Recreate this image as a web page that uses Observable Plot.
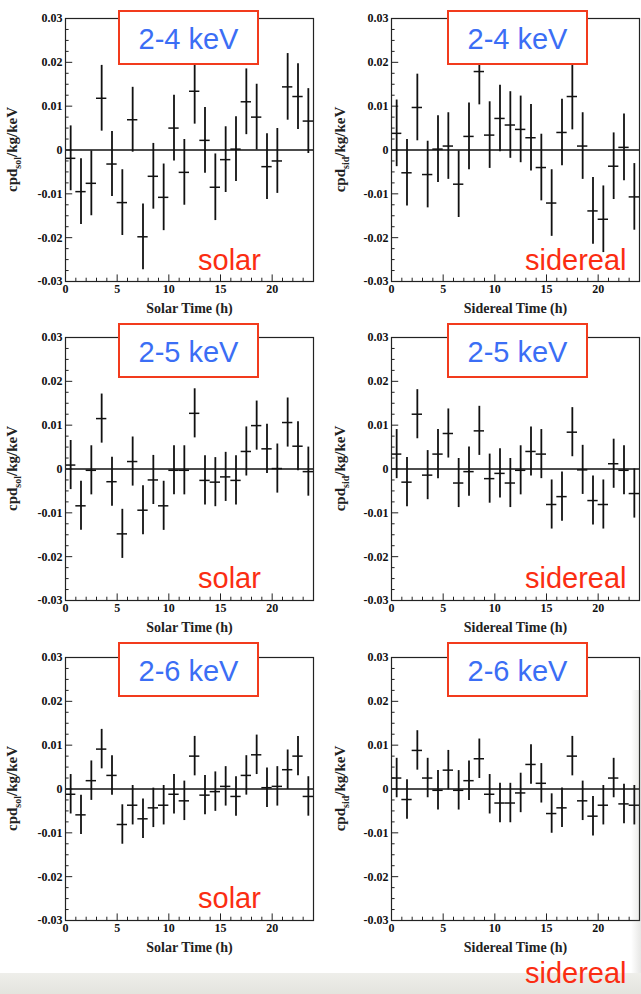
<!DOCTYPE html>
<html>
<head>
<meta charset="utf-8">
<script src="https://cdn.jsdelivr.net/npm/d3@7"></script>
<script src="https://cdn.jsdelivr.net/npm/@observablehq/plot@0.6"></script>
<style>
html, body { margin: 0; padding: 0; background: #fff; overflow: hidden; }
#page { position: relative; width: 641px; height: 994px; overflow: hidden; background: #fff; }
.panel { position: absolute; }
.panel svg { overflow: visible; }
.kev { position: absolute; box-sizing: border-box; height: 55px; border: 2px solid #f23b1d; background: #fff;
       color: #3b6ef5; font-family: "Liberation Sans", Arial, sans-serif; font-size: 29px; line-height: 29px;
       padding-top: 13px; text-align: center; }
.tag { position: absolute; color: #fb2d12; font-family: "Liberation Sans", Arial, sans-serif; font-size: 29px; line-height: 28px; white-space: nowrap; }
.band { position: absolute; left: 0; top: 973px; width: 641px; height: 21px; background: linear-gradient(#eeeeea, #e4e4de); }
.shade { position: absolute; left: 631px; top: 690px; width: 10px; height: 283px;
         background: linear-gradient(to right, rgba(120,120,110,0), rgba(120,120,110,0.18)); }
</style>
</head>
<body>
<div id="page"></div>
<script>
// ---- data ----
const hours = [0.5,1.5,2.5,3.5,4.5,5.5,6.5,7.5,8.5,9.5,10.5,11.5,12.5,13.5,14.5,15.5,16.5,17.5,18.5,19.5,20.5,21.5,22.5,23.5];

const solar24 = [-0.0019,-0.0095,-0.0076,0.0118,-0.0032,-0.0120,0.0069,-0.0198,-0.0060,-0.0108,0.0050,-0.0051,
                 0.0134,0.0022,-0.0085,-0.0022,0.0002,0.0110,0.0075,-0.0038,-0.0025,0.0144,0.0122,0.0066];
const solar24Err = [0.0074,0.0075,0.0074,0.0075,0.0074,0.0075,0.0074,0.0075,0.0075,0.0076,0.0075,0.0075,
                    0.0075,0.0075,0.0076,0.0075,0.0074,0.0075,0.0075,0.0075,0.0074,0.0076,0.0075,0.0074];

const sidereal24 = [0.0038,-0.0052,0.0097,-0.0056,0.0002,0.0009,-0.0078,0.0031,0.0179,0.0034,0.0072,0.0057,
                    0.0047,0.0028,-0.0040,-0.0121,0.0040,0.0122,0.0009,-0.0139,-0.0158,-0.0037,0.0006,-0.0107];
const sidereal24Err = [0.0076,0.0076,0.0076,0.0076,0.0076,0.0076,0.0076,0.0076,0.0076,0.0076,0.0076,0.0076,
                       0.0076,0.0076,0.0076,0.0076,0.0076,0.0076,0.0076,0.0076,0.0076,0.0076,0.0076,0.0076];

const solar25 = [0.0009,-0.0084,-0.0003,0.0115,-0.0029,-0.0148,0.0017,-0.0094,-0.0025,-0.0084,-0.0003,-0.0003,
                 0.0127,-0.0026,-0.0030,-0.0018,-0.0026,0.0040,0.0099,0.0046,0.0001,0.0106,0.0052,-0.0006];
const solar25Err = [0.0056,0.0056,0.0056,0.0056,0.0056,0.0056,0.0056,0.0056,0.0056,0.0056,0.0056,0.0056,
                    0.0056,0.0056,0.0056,0.0056,0.0056,0.0056,0.0056,0.0056,0.0056,0.0056,0.0056,0.0056];

const sidereal25 = [0.0034,-0.0030,0.0125,-0.0014,0.0034,0.0081,-0.0032,-0.0006,0.0087,-0.0022,-0.0010,-0.0032,
                    -0.0003,0.0040,0.0034,-0.0081,-0.0063,0.0084,-0.0002,-0.0072,-0.0081,0.0012,-0.0003,-0.0056];
const sidereal25Err = [0.0056,0.0056,0.0056,0.0056,0.0056,0.0056,0.0056,0.0056,0.0056,0.0056,0.0056,0.0056,
                       0.0056,0.0056,0.0056,0.0056,0.0056,0.0056,0.0056,0.0056,0.0056,0.0056,0.0056,0.0056];

const solar26 = [-0.0012,-0.0059,0.0019,0.0091,0.0031,-0.0081,-0.0037,-0.0068,-0.0043,-0.0037,-0.0012,-0.0027,
                 0.0075,-0.0014,-0.0006,0.0006,-0.0017,0.0031,0.0078,0.0003,0.0006,0.0044,0.0075,-0.0017];
const solar26Err = [0.0045,0.0045,0.0045,0.0045,0.0045,0.0045,0.0045,0.0045,0.0045,0.0045,0.0045,0.0045,
                    0.0045,0.0045,0.0045,0.0045,0.0045,0.0045,0.0045,0.0045,0.0045,0.0045,0.0045,0.0045];

const sidereal26 = [0.0025,-0.0024,0.0088,0.0025,-0.0003,0.0043,-0.0003,0.0019,0.0069,-0.0012,-0.0032,-0.0032,
                    -0.0009,0.0056,0.0013,-0.0056,-0.0043,0.0075,-0.0027,-0.0062,-0.0037,0.0025,-0.0034,-0.0037];
const sidereal26Err = [0.0045,0.0045,0.0045,0.0045,0.0045,0.0045,0.0045,0.0045,0.0045,0.0045,0.0045,0.0045,
                       0.0045,0.0045,0.0045,0.0045,0.0045,0.0045,0.0045,0.0045,0.0045,0.0045,0.0045,0.0045];

const energyBands = ["2-4 keV", "2-5 keV", "2-6 keV"];
const frameNames = ["solar", "sidereal"];
const xTitles = ["Solar Time (h)", "Sidereal Time (h)"];
const ySubs = ["sol", "sid"];
const yTicks = [-0.03, -0.02, -0.01, 0, 0.01, 0.02, 0.03];
const yMinorTicks = [-0.0275,-0.025,-0.0225,-0.0175,-0.015,-0.0125,-0.0075,-0.005,-0.0025,
                     0.0025,0.005,0.0075,0.0125,0.015,0.0175,0.0225,0.025,0.0275];
const xTicks = [0, 5, 10, 15, 20];
const xMinorTicks = [1,2,3,4,6,7,8,9,11,12,13,14,16,17,18,19,21,22,23];

const seriesGrid = [
  [[solar24, solar24Err], [sidereal24, sidereal24Err]],
  [[solar25, solar25Err], [sidereal25, sidereal25Err]],
  [[solar26, solar26Err], [sidereal26, sidereal26Err]]
];

// ---- layout ----
const page = document.getElementById("page");
const rowTop = [0, 319, 639];
const colLeft = [0, 320];
const serif = "'Liberation Serif', 'Times New Roman', serif";

function fmtY(d) { return d === 0 ? "0" : d.toFixed(2); }

function makePanel(vals, errs, col) {
  const data = hours.map((h, i) => ({h, v: vals[i], e: errs[i]}));
  const left = col === 0;
  const mL = left ? 65 : 71;
  const W = 320;
  const plot = Plot.plot({
    width: W, height: 320,
    marginLeft: mL, marginRight: W - mL - 248, marginTop: 18, marginBottom: 39,
    x: {domain: [0, 24], axis: null},
    y: {domain: [-0.03, 0.03], axis: null},
    style: {background: "transparent", overflow: "visible"},
    marks: [
      Plot.ruleY([0], {stroke: "#111", strokeWidth: 1.3}),
      Plot.ruleY(yTicks, {y: d => d, x1: 0, x2: 0.7, stroke: "#222", strokeWidth: 1}),
      Plot.ruleY(yMinorTicks, {y: d => d, x1: 0, x2: 0.35, stroke: "#222", strokeWidth: 1}),
      Plot.ruleX(xTicks, {x: d => d, y1: -0.03, y2: -0.0285, stroke: "#222", strokeWidth: 1}),
      Plot.ruleX(xMinorTicks, {x: d => d, y1: -0.03, y2: -0.02925, stroke: "#222", strokeWidth: 1}),
      Plot.axisY(yTicks, {tickSize: 0, tickPadding: 3, tickFormat: fmtY, fontSize: 12, fontWeight: "bold",
                          fontFamily: serif, fill: "#111", label: null}),
      Plot.axisX(xTicks, {tickSize: 0, tickPadding: 3, tickFormat: d => String(d), fontSize: 12, fontWeight: "bold",
                          fontFamily: serif, fill: "#111", label: null}),
      Plot.ruleX(data, {x: "h", y1: d => d.v - d.e, y2: d => d.v + d.e, stroke: "#111", strokeWidth: 1.8}),
      Plot.ruleY(data, {y: "v", x1: d => d.h - 0.5, x2: d => d.h + 0.5, stroke: "#111", strokeWidth: 1.5}),
      Plot.text([xTitles[col]], {frameAnchor: "bottom", text: d => d, dy: 31, fontSize: 14, fontWeight: "bold",
                                 fontFamily: serif, fill: "#222"}),
      Plot.frame({stroke: "#222", strokeWidth: 1.2})
    ]
  });
  // y axis title with subscript
  const svg = d3.select(plot);
  const t = svg.append("text")
    .attr("transform", `translate(${left ? 17 : 25},${18 + 263 / 2}) rotate(-90)`)
    .attr("text-anchor", "middle")
    .attr("font-family", serif)
    .attr("font-weight", "bold")
    .attr("font-size", 15)
    .attr("fill", "#222");
  t.append("tspan").text("cpd");
  t.append("tspan").attr("dy", 4).attr("font-size", 10).text(ySubs[col]);
  t.append("tspan").attr("dy", -4).text("/kg/keV");
  return plot;
}

for (let r = 0; r < 3; r++) {
  for (let c = 0; c < 2; c++) {
    const [vals, errs] = seriesGrid[r][c];
    const holder = document.createElement("div");
    holder.className = "panel";
    holder.style.left = colLeft[c] + "px";
    holder.style.top = rowTop[r] + "px";
    holder.appendChild(makePanel(vals, errs, c));
    page.appendChild(holder);
  }
}

// energy band labels
const boxTops = [10, 323, 642];
const boxLefts = [118, 447];
for (let r = 0; r < 3; r++) {
  for (let c = 0; c < 2; c++) {
    const b = document.createElement("div");
    b.className = "kev";
    b.style.left = boxLefts[c] + "px";
    b.style.top = boxTops[r] + "px";
    b.style.width = "141px";
    b.textContent = energyBands[r];
    page.appendChild(b);
  }
}

// background band at the bottom of the slide
const band = document.createElement("div"); band.className = "band"; page.appendChild(band);
const shade = document.createElement("div"); shade.className = "shade"; page.appendChild(shade);

// solar / sidereal tags
const tagBaselines = [[270, 270], [588, 588], [908, 983]];
const tagLefts = [198, 525];
for (let r = 0; r < 3; r++) {
  for (let c = 0; c < 2; c++) {
    const s = document.createElement("div");
    s.className = "tag";
    s.style.left = tagLefts[c] + "px";
    s.style.top = (tagBaselines[r][c] - 24) + "px";
    s.textContent = frameNames[c];
    page.appendChild(s);
  }
}
</script>
</body>
</html>
